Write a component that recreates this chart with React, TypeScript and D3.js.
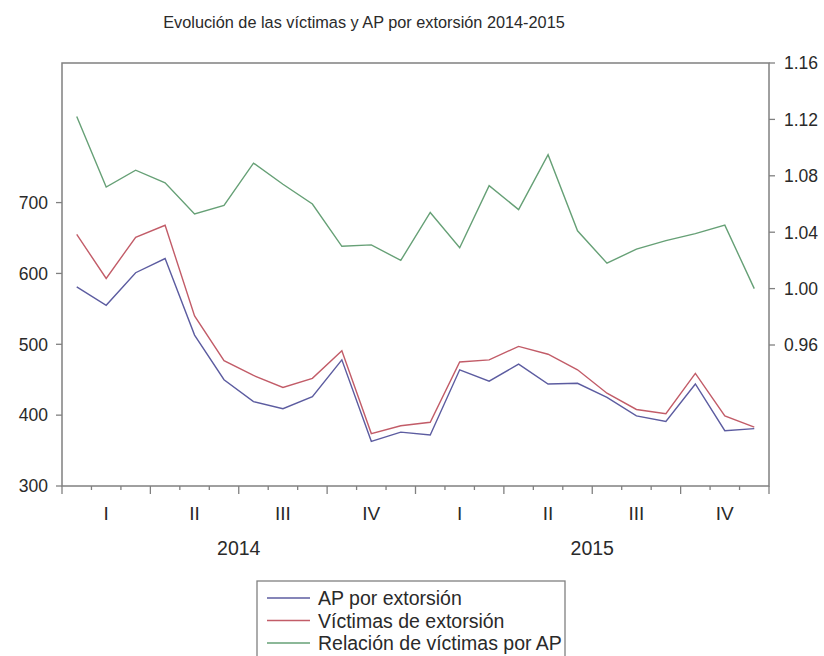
import React from "react";
import * as d3 from "d3";

const months: number[] = d3.range(24);
const apExtorsion: number[] = [581, 555, 601, 621, 513, 450, 419, 409, 426, 478, 363, 376, 372, 464, 448, 472, 444, 445, 425, 399, 391, 444, 378, 381];
const victimasExtorsion: number[] = [655, 593, 651, 668, 540, 477, 456, 439, 452, 491, 374, 385, 390, 475, 478, 497, 486, 464, 431, 408, 402, 459, 399, 383];
const relacion: number[] = [1.122, 1.072, 1.084, 1.075, 1.053, 1.059, 1.089, 1.074, 1.060, 1.030, 1.031, 1.020, 1.054, 1.029, 1.073, 1.056, 1.095, 1.041, 1.018, 1.028, 1.034, 1.039, 1.045, 1.000];
const leftTicks: number[] = [300, 400, 500, 600, 700];
const rightTicks: number[] = [0.96, 1.0, 1.04, 1.08, 1.12, 1.16];
const quarterLabels: string[] = ["I", "II", "III", "IV"];
const years: string[] = ["2014", "2015"];
const seriesNames: string[] = ["AP por extorsión", "Víctimas de extorsión", "Relación de víctimas por AP"];
const title = "Evolución de las víctimas y AP por extorsión 2014-2015";

const COLORS = ["#5c5ca0", "#c25c68", "#66a076"];
const FONT = "'Liberation Sans', Arial, sans-serif";
const AXIS = "#808080";
const TEXT = "#2a2a2a";

export default function App() {
  const L = 62, R = 769, T = 63, B = 486;
  const x = d3.scaleLinear().domain([0, months.length]).range([L, R]);
  const yL = d3.scaleLinear().domain([300, 897]).range([B, T]);
  const yR = d3.scaleLinear().domain([0.86, 1.16]).range([B, T]);
  const lineL = d3.line<number>().x((_, i) => x(months[i] + 0.5)).y((d) => yL(d));
  const lineR = d3.line<number>().x((_, i) => x(months[i] + 0.5)).y((d) => yR(d));

  const lx0 = 267, lx1 = 310, ltx = 318;
  const rows = [598, 620.5, 643];

  return (
    <svg width={824} height={656} style={{ position: "absolute", left: 0, top: 0, background: "#fff" }} fontFamily={FONT}>
      <text x={364} y={28} textAnchor="middle" fontSize={16.3} fill={TEXT}>{title}</text>

      {/* x ticks */}
      {d3.range(months.length + 1).map((i) => (
        <line key={"xt" + i} x1={x(i)} x2={x(i)} y1={B} y2={B + (i % 3 === 0 ? 8 : 4)} stroke={AXIS} strokeWidth={1.3} />
      ))}
      {d3.range(8).map((q) => (
        <text key={"q" + q} x={x(q * 3 + 1.5)} y={520} textAnchor="middle" fontSize={19} fill={TEXT}>{quarterLabels[q % 4]}</text>
      ))}
      {years.map((yr, k) => (
        <text key={yr} x={x(k * 12 + 6)} y={555} textAnchor="middle" fontSize={19.5} fill={TEXT}>{yr}</text>
      ))}

      {/* left ticks */}
      {leftTicks.map((t) => (
        <g key={"l" + t}>
          <line x1={L - 6} x2={L} y1={yL(t)} y2={yL(t)} stroke={AXIS} strokeWidth={1.3} />
          <text x={L - 14} y={yL(t)} dy="0.36em" textAnchor="end" fontSize={17.5} fill={TEXT}>{t}</text>
        </g>
      ))}
      {/* right ticks */}
      {rightTicks.map((t) => (
        <g key={"r" + t}>
          <line x1={R} x2={R + 6} y1={yR(t)} y2={yR(t)} stroke={AXIS} strokeWidth={1.3} />
          <text x={R + 15} y={yR(t)} dy="0.36em" textAnchor="start" fontSize={17.5} fill={TEXT}>{t.toFixed(2)}</text>
        </g>
      ))}

      {/* frame */}
      <rect x={L} y={T} width={R - L} height={B - T} fill="none" stroke={AXIS} strokeWidth={1.5} />

      {/* lines */}
      <path d={lineR(relacion) || ""} fill="none" stroke={COLORS[2]} strokeWidth={1.4} />
      <path d={lineL(victimasExtorsion) || ""} fill="none" stroke={COLORS[1]} strokeWidth={1.4} />
      <path d={lineL(apExtorsion) || ""} fill="none" stroke={COLORS[0]} strokeWidth={1.4} />

      {/* legend */}
      <rect x={257} y={581} width={308} height={90} fill="none" stroke={AXIS} strokeWidth={1.3} />
      {seriesNames.map((n, i) => (
        <g key={n}>
          <line x1={lx0} x2={lx1} y1={rows[i]} y2={rows[i]} stroke={COLORS[i]} strokeWidth={1.5} />
          <text x={ltx} y={rows[i]} dy="0.36em" fontSize={19.5} fill={TEXT}>{n}</text>
        </g>
      ))}
    </svg>
  );
}
